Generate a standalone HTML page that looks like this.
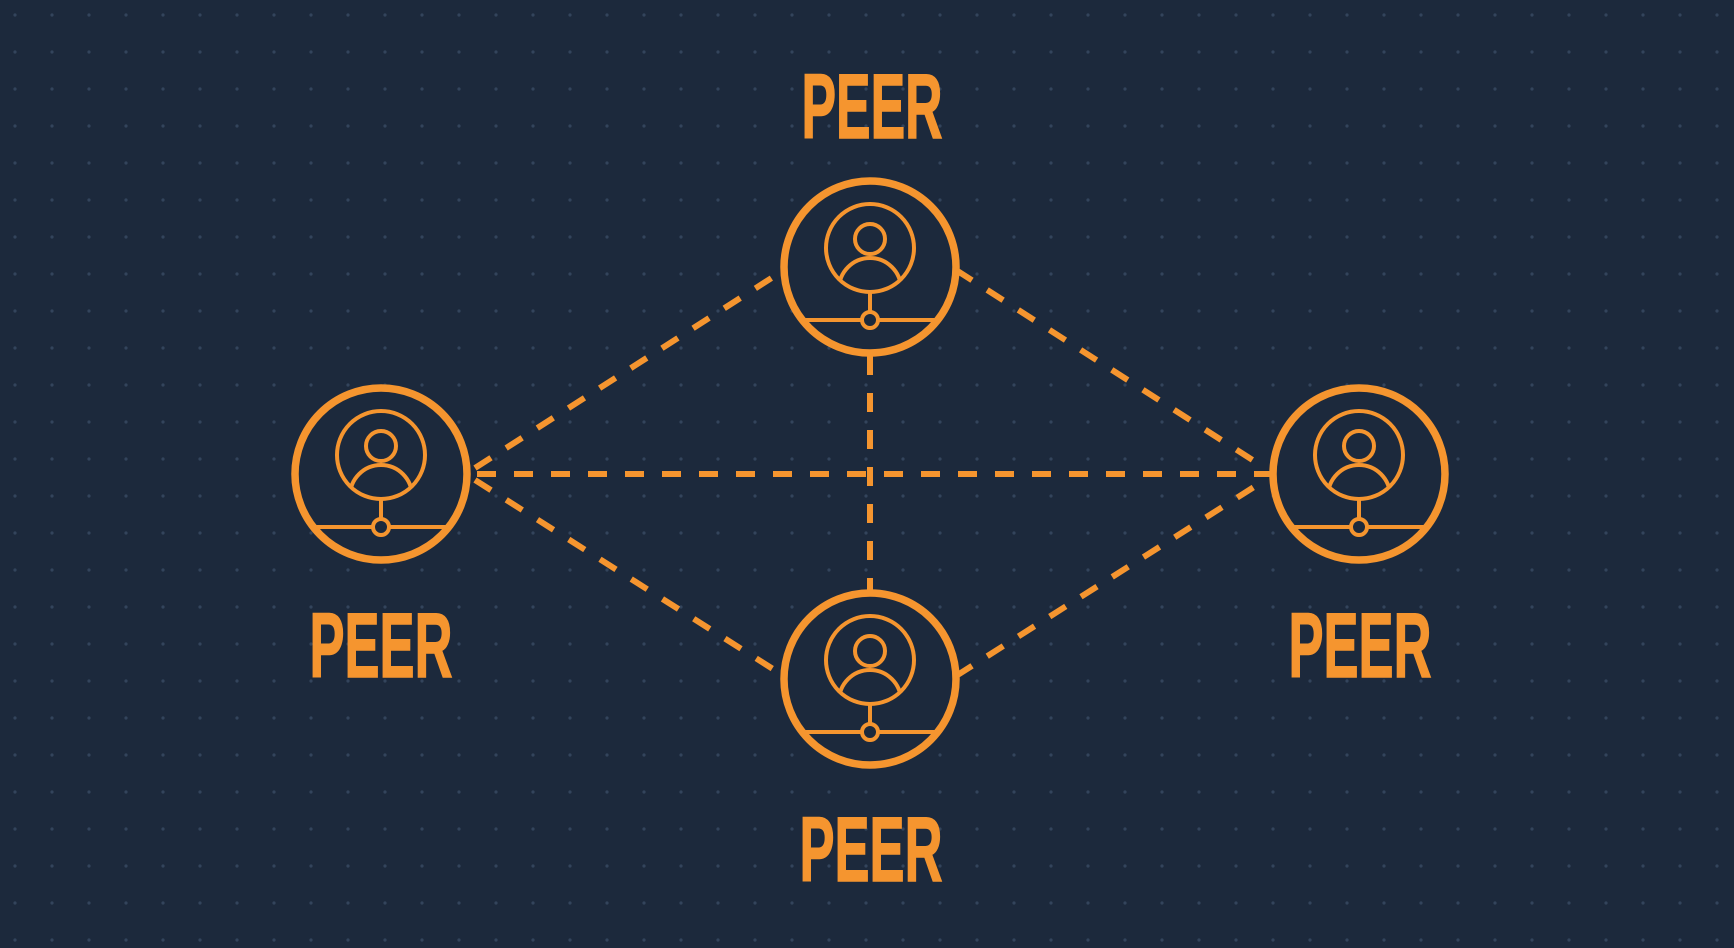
<!DOCTYPE html>
<html><head><meta charset="utf-8"><style>
html,body{margin:0;padding:0;background:#1c293c;}
svg{display:block;}
</style></head><body>
<svg width="1734" height="948" viewBox="0 0 1734 948" xmlns="http://www.w3.org/2000/svg">
<defs>
<pattern id="dots" x="0" y="0" width="37" height="37" patternUnits="userSpaceOnUse">
<circle cx="15" cy="15" r="1.6" fill="#33445c"/>
</pattern>
<clipPath id="ic"><circle cx="0" cy="-19" r="44"/></clipPath>
<g id="node">
<circle cx="0" cy="0" r="86" fill="#1c293c" stroke="#f5952f" stroke-width="7.5"/>
<circle cx="0" cy="-19" r="44" fill="none" stroke="#f5952f" stroke-width="4"/>
<circle cx="0" cy="-28" r="15" fill="none" stroke="#f5952f" stroke-width="4"/>
<circle cx="0" cy="22" r="31" fill="none" stroke="#f5952f" stroke-width="4" clip-path="url(#ic)"/>
<line x1="0" y1="25" x2="0" y2="45" stroke="#f5952f" stroke-width="4"/>
<circle cx="0" cy="53" r="8" fill="none" stroke="#f5952f" stroke-width="4"/>
<line x1="-68" y1="53" x2="-8" y2="53" stroke="#f5952f" stroke-width="4"/>
<line x1="8" y1="53" x2="68" y2="53" stroke="#f5952f" stroke-width="4"/>
</g>
</defs>
<rect width="1734" height="948" fill="#1c293c"/>
<rect width="1734" height="948" fill="url(#dots)"/>
<g stroke="#f5952f" stroke-width="6" stroke-dasharray="19 18" fill="none">
<line x1="467" y1="474" x2="1273" y2="474" stroke-dashoffset="-10"/>
<line x1="870" y1="356" x2="870" y2="590"/>
<line x1="475" y1="468" x2="784" y2="270"/>
<line x1="475" y1="480" x2="784" y2="676"/>
<line x1="956" y1="270" x2="1265" y2="468"/>
<line x1="956" y1="676" x2="1265" y2="480"/>
</g>
<use href="#node" x="870" y="267"/>
<use href="#node" x="381" y="474"/>
<use href="#node" x="1359" y="474"/>
<use href="#node" x="870" y="679"/>
<g fill="#f5952f" stroke="#f5952f" stroke-width="1.5" font-family="'Liberation Sans Narrow','Liberation Sans',sans-serif" font-weight="bold" font-size="92" text-anchor="middle">
<text x="872" y="138" textLength="141" lengthAdjust="spacingAndGlyphs">PEER</text>
<text x="381" y="677" textLength="143" lengthAdjust="spacingAndGlyphs">PEER</text>
<text x="1360" y="677" textLength="143" lengthAdjust="spacingAndGlyphs">PEER</text>
<text x="871" y="881" textLength="143" lengthAdjust="spacingAndGlyphs">PEER</text>
</g>
</svg>
</body></html>
